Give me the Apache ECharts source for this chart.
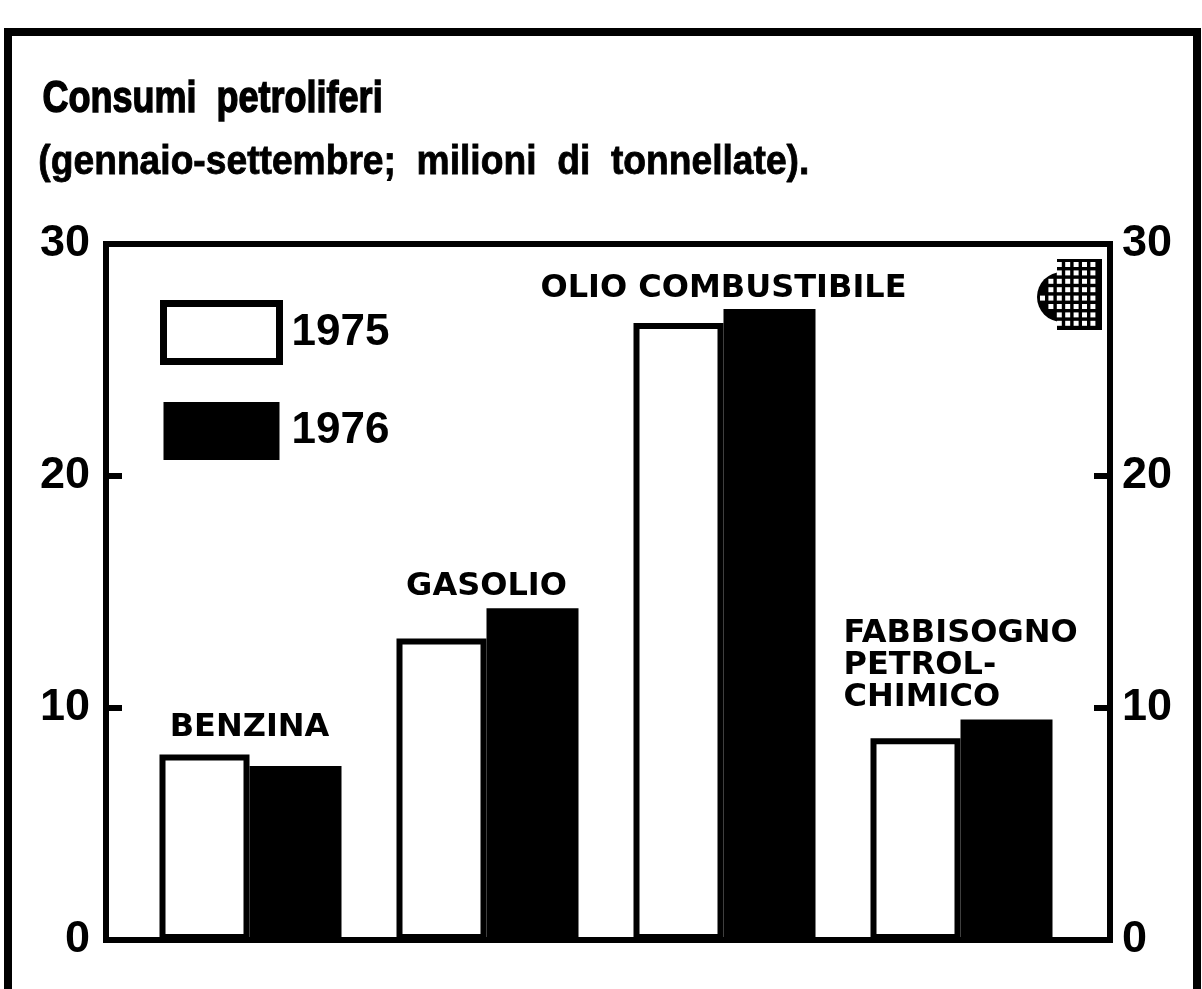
<!DOCTYPE html>
<html>
<head>
<meta charset="utf-8">
<style>
  html, body { margin: 0; padding: 0; background: #fff; }
  #chart { width: 1202px; height: 989px; }
</style>
<script src="https://cdn.jsdelivr.net/npm/echarts@6/dist/echarts.min.js"></script>
</head>
<body>
<div id="chart"></div>
<script>
(function() {
  // categories and values (milioni di tonnellate, gennaio-settembre)
  var categories = ['BENZINA', 'GASOLIO', 'OLIO COMBUSTIBILE', 'FABBISOGNO\nPETROL-\nCHIMICO'];
  var years = ['1975', '1976'];
  var values1975 = [8.0, 13.0, 26.6, 8.7];
  var values1976 = [7.5, 14.3, 27.2, 9.5];
  var yMin = 0, yMax = 30, yStep = 10;

  var ink = '#000';
  var paper = '#fff';
  var boldFont = 'Liberation Sans, Arial, sans-serif';
  var labelFont = 'DejaVu Sans, sans-serif';

  // how far above the taller bar each category name sits (px)
  var labelLift = [22, 6, 4, 6];

  var chart = echarts.init(document.getElementById('chart'), null, { renderer: 'canvas' });

  var data1976 = values1976.map(function(v, i) {
    var item = { value: v, label: { offset: [-46, -labelLift[i]] } };
    if (categories[i].indexOf('\n') >= 0) {
      item.label = { align: 'left', offset: [-46 - 117, -labelLift[i]], lineHeight: 32 };
    }
    return item;
  });

  // little newspaper logo in the top right corner
  var logo = [
    { type: 'circle', shape: { cx: 1062, cy: 297, r: 25 }, style: { fill: ink } },
    { type: 'rect', shape: { x: 1057, y: 259, width: 45, height: 71 }, style: { fill: ink } }
  ];
  for (var gx = 1040; gx < 1100; gx += 8.4) {
    for (var gy = 262; gy < 328; gy += 8.4) {
      var cx = gx + 2.5, cy = gy + 2.5;
      var inRect = cx > 1059 && cx < 1099 && cy > 261 && cy < 327;
      var inCirc = (cx - 1062) * (cx - 1062) + (cy - 297) * (cy - 297) < 20 * 20;
      if (inRect || inCirc) {
        logo.push({ type: 'rect', shape: { x: gx, y: gy, width: 5, height: 5 }, style: { fill: paper } });
      }
    }
  }

  var yAxisBase = {
    type: 'value',
    min: yMin,
    max: yMax,
    interval: yStep,
    gridIndex: 0,
    axisLine: { show: false },
    splitLine: { show: false },
    axisTick: { show: true, inside: true, length: 16, lineStyle: { color: ink, width: 6 } },
    axisLabel: {
      color: ink, fontSize: 45, fontWeight: 'bold', fontFamily: boldFont
    }
  };

  chart.setOption({
    animation: false,
    backgroundColor: paper,
    legend: {
      data: [
        { name: years[0], itemStyle: { color: paper, borderColor: ink, borderWidth: 7 } },
        { name: years[1], itemStyle: { color: ink, borderColor: ink, borderWidth: 0 } }
      ],
      orient: 'vertical',
      left: 160, top: 300,
      padding: 0,
      itemWidth: 116, itemHeight: 58, itemGap: 37,
      icon: 'rect',
      textStyle: { color: ink, fontSize: 44, fontWeight: 'bold', fontFamily: boldFont, padding: [0, 0, 0, 7] }
    },
    grid: [
      { left: 106, right: 92, top: 244, bottom: 49, show: true, borderWidth: 6, borderColor: ink, backgroundColor: 'transparent' },
      { left: 132, right: 122, top: 244, bottom: 49 }
    ],
    xAxis: [
      { type: 'value', gridIndex: 0, min: 0, max: 1, show: false },
      {
        type: 'category', gridIndex: 1, data: categories,
        axisLine: { show: false }, axisTick: { show: false }, axisLabel: { show: false }
      }
    ],
    yAxis: [
      echarts.util.merge({ position: 'left', axisLabel: { margin: 16 } }, yAxisBase, false),
      echarts.util.merge({ position: 'right', axisLabel: { margin: 12 } }, yAxisBase, false),
      { type: 'value', gridIndex: 1, min: yMin, max: yMax, show: false }
    ],
    series: [
      {
        name: years[0],
        type: 'bar',
        xAxisIndex: 1, yAxisIndex: 2,
        data: values1975,
        barWidth: 90,
        barGap: '0%',
        itemStyle: { color: paper, borderColor: ink, borderWidth: 6 }
      },
      {
        name: years[1],
        type: 'bar',
        xAxisIndex: 1, yAxisIndex: 2,
        data: data1976,
        barWidth: 92,
        itemStyle: { color: ink, borderColor: ink, borderWidth: 4 },
        label: {
          show: true,
          position: 'top',
          distance: 0,
          color: ink,
          fontSize: 32,
          fontWeight: 'bold',
          fontFamily: labelFont,
          formatter: function(p) { return categories[p.dataIndex]; }
        }
      }
    ],
    graphic: [
      {
        type: 'rect',
        shape: { x: 8, y: 32, width: 1189, height: 1000 },
        style: { fill: null, stroke: ink, lineWidth: 8 },
        silent: true
      },
      {
        type: 'text', left: 42, top: 76, scaleX: 0.8,
        style: { text: 'Consumi  petroliferi', fill: ink, stroke: ink, lineWidth: 1.5, font: 'bold 45px ' + boldFont }
      },
      {
        type: 'text', left: 38, top: 143, scaleX: 0.93,
        style: { text: '(gennaio-settembre;  milioni  di  tonnellate).', fill: ink, stroke: ink, lineWidth: 0.8, font: 'bold 40px ' + boldFont }
      },
      { type: 'group', children: logo, silent: true }
    ]
  });

  window.addEventListener('resize', function() { chart.resize(); });
})();
</script>
</body>
</html>
